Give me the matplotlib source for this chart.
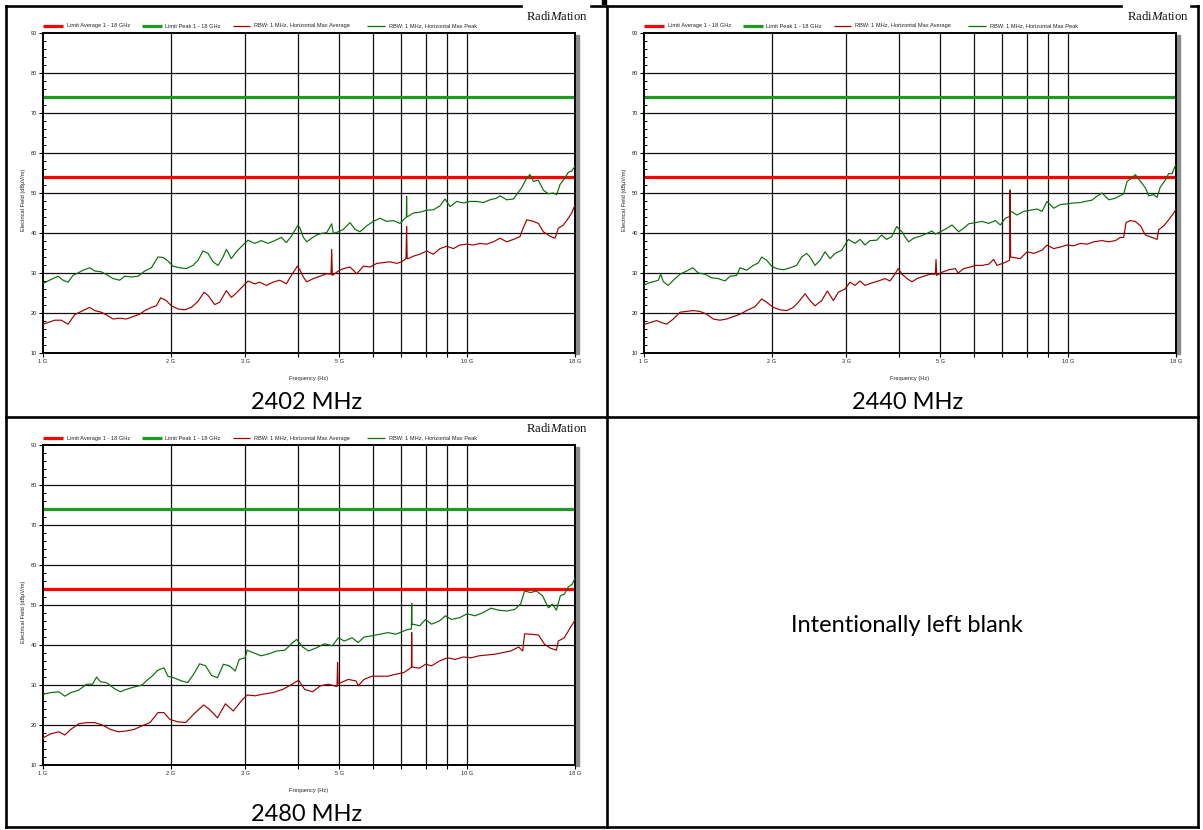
import matplotlib
matplotlib.use('Agg')
import matplotlib.pyplot as plt
from matplotlib.lines import Line2D
from matplotlib.patches import Rectangle
import matplotlib.ticker as mticker

plt.rcParams['mathtext.fontset'] = 'custom'
plt.rcParams['mathtext.rm'] = 'Liberation Serif'
plt.rcParams['mathtext.it'] = 'Liberation Serif:italic'

# ---------------- data (frequency in GHz, level in dBuV/m) ----------------
limit_avg = 54.0
limit_peak = 74.0

legend_labels = ["Limit Average 1 - 18 GHz", "Limit Peak 1 - 18 GHz",
                 "RBW: 1 MHz, Horizontal Max Average", "RBW: 1 MHz, Horizontal Max Peak"]
captions = ["2402 MHz", "2440 MHz", "2480 MHz"]
x_tick_vals = [1, 2, 3, 4, 5, 6, 7, 8, 9, 10, 18]
x_tick_labels = {1: "1 G", 2: "2 G", 3: "3 G", 5: "5 G", 10: "10 G", 18: "18 G"}
y_ticks = [10, 20, 30, 40, 50, 60, 70, 80, 90]

# chart 1 (2402 MHz)
c1_pk_f = [1.000, 1.027, 1.056, 1.085, 1.115, 1.146, 1.177, 1.209, 1.243, 1.288, 1.324, 1.373, 1.423, 1.463,
           1.517, 1.558, 1.616, 1.675, 1.738, 1.802, 1.868, 1.920, 1.972, 2.026, 2.101, 2.178, 2.259, 2.321,
           2.385, 2.451, 2.519, 2.588, 2.660, 2.708, 2.782, 2.859, 2.938, 3.046, 3.158, 3.275, 3.396, 3.521,
           3.651, 3.751, 3.855, 3.997, 4.041, 4.115, 4.190, 4.305, 4.423, 4.545, 4.670, 4.799, 4.843, 4.976,
           5.113, 5.302, 5.448, 5.598, 5.805, 6.019, 6.241, 6.471, 6.709, 6.956, 7.148, 7.200, 7.210, 7.222,
           7.252, 7.478, 7.754, 8.040, 8.337, 8.646, 8.884, 9.129, 9.465, 9.813, 10.17, 10.55, 10.94, 11.34,
           11.76, 11.98, 12.42, 12.88, 13.23, 13.47, 13.85, 14.10, 14.36, 14.75, 15.16, 15.57, 16.00, 16.30,
           16.59, 17.05, 17.36, 17.68, 18.00]
c1_pk_v = [27.3, 28.0, 28.6, 29.2, 28.2, 27.7, 29.4, 30.0, 30.7, 31.3, 30.5, 30.3, 29.4, 28.6,
           28.2, 29.2, 29.0, 29.2, 30.5, 31.3, 34.0, 33.9, 33.0, 31.7, 31.3, 31.1, 31.9, 33.2,
           35.5, 34.9, 32.8, 31.9, 34.0, 35.9, 33.6, 35.3, 36.6, 38.2, 37.4, 38.1, 37.4, 38.1,
           38.9, 37.6, 39.2, 42.0, 41.2, 38.9, 37.8, 38.7, 39.5, 39.9, 40.1, 42.3, 39.9, 40.3,
           40.9, 42.6, 40.9, 40.3, 41.8, 42.9, 43.7, 42.9, 43.1, 42.4, 43.7, 43.9, 49.2, 44.1,
           44.1, 45.0, 45.2, 45.7, 45.8, 46.8, 48.5, 46.6, 47.9, 47.5, 47.9, 47.9, 47.6, 48.3,
           48.7, 49.3, 48.3, 48.5, 50.2, 51.3, 53.8, 54.6, 52.9, 53.2, 50.7, 49.8, 50.0, 49.6,
           52.1, 53.8, 55.2, 55.5, 56.7]
c1_av_f = [1.000, 1.027, 1.066, 1.105, 1.146, 1.188, 1.231, 1.288, 1.324, 1.373, 1.423, 1.463, 1.517, 1.573,
           1.631, 1.691, 1.738, 1.802, 1.851, 1.895, 1.954, 2.008, 2.082, 2.160, 2.239, 2.321, 2.399, 2.451,
           2.542, 2.612, 2.708, 2.782, 2.859, 2.938, 3.046, 3.158, 3.245, 3.365, 3.489, 3.618, 3.751, 3.855,
           3.982, 4.041, 4.115, 4.190, 4.345, 4.504, 4.670, 4.782, 4.799, 4.816, 4.976, 5.113, 5.302, 5.498,
           5.701, 5.911, 6.129, 6.354, 6.589, 6.832, 7.020, 7.187, 7.210, 7.232, 7.265, 7.478, 7.754, 8.040,
           8.337, 8.646, 8.964, 9.296, 9.638, 9.993, 10.36, 10.74, 11.14, 11.55, 11.98, 12.42, 12.88, 13.35,
           13.47, 13.85, 14.36, 14.75, 15.16, 15.71, 16.15, 16.44, 16.90, 17.36, 17.68, 17.91, 18.00]
c1_av_v = [17.2, 17.6, 18.2, 18.2, 17.2, 19.6, 20.4, 21.4, 20.6, 20.2, 19.3, 18.5, 18.7, 18.5,
           19.1, 19.7, 20.6, 21.4, 21.8, 23.8, 23.1, 21.8, 21.0, 20.8, 21.4, 22.9, 25.2, 24.4,
           22.1, 22.7, 25.6, 23.9, 25.0, 26.3, 28.0, 27.3, 27.7, 26.9, 27.7, 28.2, 27.3, 29.4,
           31.7, 30.7, 29.0, 27.8, 28.6, 29.2, 29.8, 29.7, 35.9, 29.4, 30.5, 31.1, 31.5, 29.8,
           31.7, 31.5, 32.4, 32.6, 32.8, 32.4, 32.8, 33.6, 41.6, 33.6, 33.6, 34.2, 34.7, 35.5,
           34.7, 36.1, 36.7, 36.1, 37.0, 37.2, 37.0, 37.4, 37.2, 37.8, 38.7, 37.8, 38.4, 39.1,
           40.3, 43.3, 42.9, 42.4, 40.3, 39.2, 38.7, 41.2, 42.0, 43.7, 45.0, 46.5, 46.8]

# chart 2 (2440 MHz)
c2_pk_f = [1.000, 1.024, 1.052, 1.081, 1.095, 1.111, 1.141, 1.173, 1.216, 1.261, 1.303, 1.343, 1.393, 1.444,
           1.497, 1.553, 1.596, 1.654, 1.685, 1.747, 1.811, 1.861, 1.895, 1.947, 2.001, 2.056, 2.132, 2.211,
           2.292, 2.355, 2.420, 2.464, 2.532, 2.602, 2.674, 2.748, 2.823, 2.927, 3.035, 3.147, 3.234, 3.323,
           3.414, 3.540, 3.637, 3.737, 3.840, 3.946, 4.063, 4.137, 4.212, 4.328, 4.487, 4.653, 4.782, 4.869,
           5.003, 5.188, 5.331, 5.528, 5.680, 5.837, 6.052, 6.275, 6.506, 6.745, 6.931, 7.122, 7.278, 7.300,
           7.310, 7.322, 7.345, 7.587, 7.868, 8.159, 8.461, 8.694, 8.932, 9.262, 9.603, 9.957, 10.32, 10.70,
           11.00, 11.40, 11.72, 12.04, 12.49, 12.95, 13.55, 13.80, 14.18, 14.43, 14.84, 15.24, 15.52, 15.95,
           16.24, 16.53, 16.99, 17.30, 17.62, 17.94, 18.00]
c2_pk_v = [26.9, 27.5, 27.8, 28.2, 29.7, 27.8, 26.9, 28.2, 29.7, 30.5, 31.3, 30.0, 29.7, 28.8,
           28.6, 28.0, 29.2, 29.4, 31.3, 30.7, 31.9, 32.5, 34.0, 33.2, 31.7, 31.1, 30.8, 31.3,
           31.9, 34.0, 34.9, 34.0, 31.9, 33.2, 35.3, 33.6, 34.9, 35.7, 38.4, 37.4, 38.4, 37.0,
           38.1, 38.2, 39.5, 38.4, 39.1, 41.6, 40.3, 38.9, 37.8, 38.7, 39.2, 39.9, 40.5, 39.7,
           40.3, 41.2, 42.0, 40.3, 41.2, 42.3, 42.6, 42.9, 42.4, 43.1, 42.0, 43.7, 44.1, 44.2,
           50.8, 45.2, 45.4, 44.5, 45.4, 45.7, 46.0, 45.4, 47.9, 46.2, 47.1, 47.3, 47.5, 47.6,
           47.9, 48.2, 49.2, 50.0, 48.3, 48.7, 49.8, 52.9, 53.8, 54.6, 52.9, 51.3, 49.3, 49.6,
           48.9, 51.5, 53.2, 54.9, 54.8, 56.9, 57.0]
c2_av_f = [1.000, 1.033, 1.071, 1.101, 1.131, 1.173, 1.216, 1.261, 1.307, 1.355, 1.406, 1.457, 1.511, 1.567,
           1.625, 1.685, 1.747, 1.828, 1.895, 1.947, 2.019, 2.094, 2.171, 2.251, 2.313, 2.399, 2.464, 2.532,
           2.626, 2.708, 2.798, 2.874, 2.980, 3.063, 3.147, 3.234, 3.323, 3.445, 3.572, 3.704, 3.805, 3.889,
           3.982, 4.063, 4.174, 4.289, 4.407, 4.570, 4.738, 4.869, 4.887, 4.905, 5.048, 5.235, 5.429, 5.508,
           5.680, 5.889, 6.052, 6.275, 6.506, 6.685, 6.807, 7.057, 7.290, 7.310, 7.330, 7.519, 7.727, 8.013,
           8.308, 8.694, 8.932, 9.262, 9.603, 9.957, 10.32, 10.70, 11.10, 11.51, 12.04, 12.49, 12.95, 13.30,
           13.55, 13.72, 14.05, 14.43, 14.84, 15.24, 15.80, 16.24, 16.38, 16.84, 17.30, 17.78, 18.00]
c2_av_v = [17.1, 17.6, 18.1, 17.6, 17.2, 18.5, 20.2, 20.4, 20.6, 20.4, 19.7, 18.5, 18.2, 18.5,
           19.1, 19.7, 20.6, 21.6, 23.5, 22.7, 21.4, 20.8, 20.6, 21.4, 22.7, 24.8, 23.1, 21.8,
           23.1, 25.5, 23.1, 25.2, 26.0, 27.7, 26.9, 28.0, 26.9, 27.5, 28.0, 28.6, 28.0, 29.4,
           31.1, 29.7, 28.6, 27.8, 28.6, 29.2, 29.7, 29.7, 33.4, 29.4, 30.2, 30.8, 31.1, 30.0,
           31.1, 31.5, 31.9, 31.9, 32.2, 33.4, 31.9, 32.5, 33.2, 50.5, 34.0, 33.8, 33.6, 35.3,
           34.9, 35.7, 37.0, 36.1, 36.5, 37.0, 36.8, 37.4, 37.2, 37.8, 38.1, 37.8, 38.1, 38.9,
           38.9, 42.6, 43.1, 42.9, 41.8, 39.5, 38.9, 38.4, 40.8, 41.8, 43.3, 45.0, 46.0]

# chart 3 (2480 MHz)
c3_pk_f = [1.000, 1.044, 1.090, 1.126, 1.163, 1.214, 1.267, 1.309, 1.338, 1.367, 1.411, 1.474, 1.522, 1.572,
           1.641, 1.713, 1.769, 1.808, 1.867, 1.929, 1.971, 2.035, 2.125, 2.195, 2.267, 2.342, 2.418, 2.498,
           2.580, 2.665, 2.752, 2.842, 2.904, 2.999, 3.032, 3.131, 3.268, 3.413, 3.563, 3.720, 3.884, 3.968,
           4.099, 4.233, 4.419, 4.614, 4.818, 4.976, 5.139, 5.365, 5.541, 5.723, 5.975, 6.239, 6.514, 6.800,
           7.023, 7.253, 7.400, 7.412, 7.425, 7.460, 7.738, 7.992, 8.255, 8.618, 8.901, 9.192, 9.597, 10.02,
           10.46, 10.92, 11.40, 11.90, 12.43, 12.98, 13.40, 13.69, 14.14, 14.60, 15.09, 15.58, 15.92, 16.27,
           16.62, 16.98, 17.35, 17.73, 18.00]
c3_pk_v = [27.7, 28.1, 28.3, 27.2, 28.1, 28.7, 30.2, 30.2, 32.0, 30.8, 30.6, 29.1, 28.3, 28.9,
           29.5, 30.0, 31.4, 32.2, 33.7, 34.3, 32.2, 31.8, 31.0, 30.6, 32.7, 35.3, 34.8, 32.4,
           31.8, 35.2, 34.8, 33.5, 36.4, 36.8, 38.7, 38.1, 37.3, 37.8, 38.5, 38.7, 40.6, 41.4,
           39.5, 38.5, 39.3, 40.3, 39.8, 41.8, 41.0, 41.8, 40.6, 42.0, 42.3, 42.7, 43.1, 42.7,
           43.3, 43.9, 44.0, 50.4, 45.0, 45.2, 44.8, 46.4, 45.2, 46.0, 47.3, 46.4, 46.8, 47.8,
           47.3, 48.1, 49.2, 48.7, 48.5, 48.9, 50.3, 53.5, 53.1, 53.5, 52.3, 49.3, 50.2, 48.7,
           52.3, 52.7, 54.5, 55.2, 56.7]
c3_av_f = [1.000, 1.044, 1.090, 1.126, 1.163, 1.214, 1.267, 1.323, 1.381, 1.442, 1.505, 1.572, 1.641, 1.713,
           1.788, 1.867, 1.929, 1.992, 2.080, 2.171, 2.267, 2.393, 2.471, 2.580, 2.694, 2.812, 2.935, 3.032,
           3.165, 3.304, 3.487, 3.680, 3.842, 4.011, 4.143, 4.325, 4.515, 4.715, 4.940, 4.955, 4.970, 5.251,
           5.482, 5.541, 5.723, 5.975, 6.239, 6.514, 6.800, 7.099, 7.400, 7.412, 7.425, 7.738, 7.992, 8.255,
           8.618, 8.998, 9.393, 9.806, 10.24, 10.69, 11.16, 11.65, 12.16, 12.70, 13.26, 13.55, 13.69, 14.14,
           14.76, 15.25, 15.75, 16.27, 16.44, 16.98, 17.54, 18.00]
c3_av_v = [16.8, 17.8, 18.3, 17.5, 18.9, 20.3, 20.6, 20.6, 20.0, 18.9, 18.3, 18.5, 18.9, 19.8,
           20.6, 23.1, 23.1, 21.4, 20.8, 20.6, 22.7, 25.0, 23.9, 21.8, 25.3, 23.5, 26.0, 27.5,
           27.3, 27.7, 28.1, 28.9, 30.0, 31.2, 28.9, 28.3, 29.8, 30.2, 29.6, 35.6, 30.3, 31.4,
           31.0, 29.8, 31.4, 32.2, 32.2, 32.2, 32.7, 33.1, 34.4, 43.1, 34.5, 34.2, 35.2, 34.8,
           36.0, 36.8, 36.4, 37.0, 36.8, 37.3, 37.5, 37.7, 38.1, 38.5, 39.5, 38.5, 42.8, 42.7,
           42.5, 40.2, 39.2, 38.7, 41.0, 41.8, 44.3, 46.2]

# ---------------- styling ----------------
W, H = 1203, 830
DPI = 100
C_LIM_AVG = '#ff0000'
C_LIM_PK = '#1e9a1e'
C_AVG = '#a00000'
C_PK = '#0a6e0a'
SMALL = dict(family='Liberation Sans', size=4.1, color='#222222')

fig = plt.figure(figsize=(W / DPI, H / DPI), dpi=DPI)
fig.patch.set_facecolor('white')


def fbox(x, y, w, h):
    return [x / W, 1 - (y + h) / H, w / W, h / H]


def fline(x0, y0, x1, y1, **kw):
    fig.add_artist(Line2D([x0 / W, x1 / W], [1 - y0 / H, 1 - y1 / H], transform=fig.transFigure, **kw))


def ftext(x, y, s, **kw):
    fig.text(x / W, 1 - y / H, s, **kw)


AX_W, AX_H = 532, 320


def chart(x0, y0, pk_f, pk_v, av_f, av_v, caption):
    ax = fig.add_axes(fbox(x0, y0, AX_W, AX_H))
    ax.set_xscale('log')
    ax.set_xlim(1, 18)
    ax.set_ylim(10, 90)
    for g in x_tick_vals[1:-1]:
        ax.axvline(g, color='#111111', lw=0.9, zorder=1)
    for g in y_ticks[1:-1]:
        ax.axhline(g, color='#111111', lw=0.9, zorder=1)
    ax.axhline(limit_peak, color=C_LIM_PK, lw=2.3, zorder=2)
    ax.axhline(limit_avg, color=C_LIM_AVG, lw=2.3, zorder=2)
    ax.plot(pk_f, pk_v, color=C_PK, lw=0.85, zorder=3)
    ax.plot(av_f, av_v, color=C_AVG, lw=0.85, zorder=3)
    ax.xaxis.set_major_locator(mticker.FixedLocator(x_tick_vals))
    ax.xaxis.set_minor_locator(mticker.NullLocator())
    ax.xaxis.set_major_formatter(mticker.FixedFormatter([x_tick_labels.get(v, '') for v in x_tick_vals]))
    ax.yaxis.set_major_locator(mticker.FixedLocator(y_ticks))
    ax.yaxis.set_minor_locator(mticker.MultipleLocator(2))
    ax.tick_params(axis='both', which='major', direction='out', length=3, width=0.8, pad=1.2,
                   labelsize=4.1, labelcolor='#222222')
    ax.tick_params(axis='y', which='minor', direction='in', length=2.2, width=0.7)
    for lab in ax.get_xticklabels() + ax.get_yticklabels():
        lab.set_family('Liberation Sans')
    for s in ax.spines.values():
        s.set_linewidth(1.4)
        s.set_color('black')
    # right-hand drop shadow
    fig.add_artist(Rectangle(((x0 + AX_W + 0.8) / W, 1 - (y0 + AX_H + 1) / H), 3.5 / W, (AX_H - 1) / H,
                             transform=fig.transFigure, color='#8a8a8a', zorder=0))
    ax.set_xlabel('Frequency (Hz)', fontdict=SMALL, labelpad=8.5)
    ax.set_ylabel('Electrical Field (dBµV/m)', fontdict=SMALL, labelpad=3)
    ax.yaxis.set_label_coords(-0.032, 0.48)
    # legend row
    ly = y0 - 7
    items = [(0, 20, 24, C_LIM_AVG, 2.3, legend_labels[0]),
             (99, 119, 122, C_LIM_PK, 2.3, legend_labels[1]),
             (190, 207, 211, C_AVG, 0.9, legend_labels[2]),
             (324, 342, 346, C_PK, 0.9, legend_labels[3])]
    for a, b, t, c, lw, lab in items:
        fline(x0 + a, ly, x0 + b, ly, color=c, lw=lw, solid_capstyle='butt')
        ftext(x0 + t, ly, lab, ha='left', va='center', **SMALL)
    # logo
    ftext(x0 + AX_W + 13, y0 - 13, r'$\mathrm{Radi}\mathit{M}\mathrm{ation}$', ha='right', va='baseline',
          fontsize=9.2, color='#111111',
          bbox=dict(facecolor='white', edgecolor='none', pad=1.2))
    ftext(x0 + AX_W / 2 - 2, y0 + 369, caption, ha='center', va='center', family='Lato', fontsize=17,
          color='black')
    return ax


chart(43, 33, c1_pk_f, c1_pk_v, c1_av_f, c1_av_v, captions[0])
chart(644, 33, c2_pk_f, c2_pk_v, c2_av_f, c2_av_v, captions[1])
chart(43, 445, c3_pk_f, c3_pk_v, c3_av_f, c3_av_v, captions[2])

ftext(907, 625, 'Intentionally left blank', ha='center', va='center', family='Lato', fontsize=17,
      color='black')

# table borders
TB = dict(color='black', lw=1.9, solid_capstyle='projecting', zorder=0.5)
fline(6, 6, 521, 6, **TB)
fline(591, 6, 1121, 6, **TB)
fline(1191, 6, 1198, 6, **TB)
fline(6, 417, 1198, 417, **TB)
fline(6, 827, 1198, 827, **TB)
fline(6, 6, 6, 827, **TB)
fline(607, 6, 607, 827, **TB)
fline(1198, 6, 1198, 827, **TB)
# fragment of heading letter cut off at the page top
fig.add_artist(Rectangle((602 / W, 1 - 4 / H), 4 / W, 4 / H, transform=fig.transFigure, color='black'))

fig.savefig('out.png', dpi=DPI, facecolor='white')
